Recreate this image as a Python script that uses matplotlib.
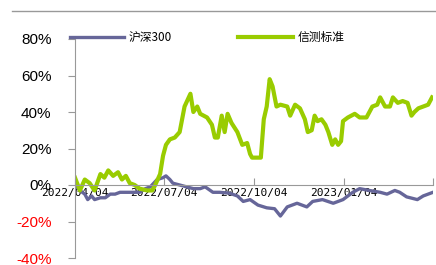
import matplotlib
matplotlib.use("Agg")
import matplotlib.pyplot as plt
from matplotlib.lines import Line2D
import pandas as pd

plt.rcParams['font.family'] = ['Noto Sans CJK SC', 'DejaVu Sans']

# 信测标准
green_dates = ["2022-04-04", "2022-04-09", "2022-04-14", "2022-04-19", "2022-04-24", "2022-04-30",
               "2022-05-04", "2022-05-08", "2022-05-13", "2022-05-18", "2022-05-22", "2022-05-26",
               "2022-05-30", "2022-06-04", "2022-06-09", "2022-06-17", "2022-06-22", "2022-06-25",
               "2022-06-30", "2022-07-03", "2022-07-06", "2022-07-10", "2022-07-15", "2022-07-20",
               "2022-07-25", "2022-07-31", "2022-08-03", "2022-08-07", "2022-08-10", "2022-08-17",
               "2022-08-22", "2022-08-25", "2022-08-28", "2022-09-01", "2022-09-04", "2022-09-07",
               "2022-09-11", "2022-09-17", "2022-09-22", "2022-09-27", "2022-09-30", "2022-10-02",
               "2022-10-11", "2022-10-14", "2022-10-17", "2022-10-20", "2022-10-23", "2022-10-27",
               "2022-10-31", "2022-11-07", "2022-11-10", "2022-11-15", "2022-11-20", "2022-11-25",
               "2022-11-28", "2022-12-02", "2022-12-05", "2022-12-08", "2022-12-12", "2022-12-16",
               "2022-12-19", "2022-12-23", "2022-12-26", "2022-12-29", "2023-01-01", "2023-01-03",
               "2023-01-08", "2023-01-15", "2023-01-20", "2023-01-27", "2023-02-02", "2023-02-07",
               "2023-02-10", "2023-02-15", "2023-02-20", "2023-02-23", "2023-02-28", "2023-03-05",
               "2023-03-10", "2023-03-14", "2023-03-17", "2023-03-21", "2023-03-26", "2023-03-31",
               "2023-04-04"]
green_vals = [4, -3, 3, 1, -3, 6,
              4, 8, 5, 7, 3, 5,
              1, 0, -2, -3, -3, 0,
              6, 16, 22, 25, 26, 29,
              43, 50, 40, 43, 39, 37,
              33, 26, 26, 38, 29, 39,
              34, 29, 22, 23, 17, 15,
              15, 36, 43, 58, 54, 43,
              44, 43, 38, 44, 42, 36,
              29, 30, 38, 35, 36, 33,
              29, 22, 25, 22, 24, 35,
              37, 39, 37, 37, 43, 44,
              48, 43, 43, 48, 45, 46,
              45, 38, 40, 42, 43, 44,
              48]

# 沪深300
hs_dates = ["2022-04-04", "2022-04-09", "2022-04-14", "2022-04-17", "2022-04-21", "2022-04-24",
            "2022-04-30", "2022-05-05", "2022-05-10", "2022-05-15", "2022-05-20", "2022-05-30",
            "2022-06-09", "2022-06-15", "2022-06-20", "2022-06-27", "2022-07-03", "2022-07-06",
            "2022-07-10", "2022-07-13", "2022-07-20", "2022-07-27", "2022-08-03", "2022-08-10",
            "2022-08-15", "2022-08-23", "2022-08-30", "2022-09-09", "2022-09-17", "2022-09-23",
            "2022-09-30", "2022-10-08", "2022-10-17", "2022-10-25", "2022-10-31", "2022-11-07",
            "2022-11-17", "2022-11-27", "2022-12-03", "2022-12-13", "2022-12-24", "2023-01-03",
            "2023-01-08", "2023-01-13", "2023-01-20", "2023-01-30", "2023-02-10", "2023-02-17",
            "2023-02-25", "2023-03-02", "2023-03-09", "2023-03-20", "2023-03-26", "2023-03-31",
            "2023-04-05"]
hs_vals = [0, -3, -5, -8, -6, -8,
           -7, -7, -5, -5, -4, -4,
           -4, -2, -1, 3, 4, 5,
           3, 1, 0, -1, -2, -2,
           -1, -4, -4, -4.5, -6, -9,
           -8, -11, -12.5, -13, -17, -12,
           -10, -12, -9, -8, -10, -8,
           -6, -4, -2, -3, -4, -5,
           -3, -4, -6.5, -8, -6, -5,
           -4]

xtick_dates = ["2022-04-04", "2022-07-04", "2022-10-04", "2023-01-04", "2023-04-05"]
xtick_labels = ["2022/04/04", "2022/07/04", "2022/10/04", "2023/01/04", ""]
yticks = [80, 60, 40, 20, 0, -20, -40]

fig = plt.figure(figsize=(4.36, 2.65), dpi=100)
ax = fig.add_axes([75 / 436, 1 - 258 / 265, (433 - 75) / 436, (258 - 39) / 265])

ax.plot(pd.to_datetime(hs_dates), hs_vals, color="#666699", lw=2.4, label="沪深300")
ax.plot(pd.to_datetime(green_dates), green_vals, color="#99CC00", lw=3.0, label="信测标准")

ax.set_ylim(-40, 80)
ax.set_xlim(pd.Timestamp("2022-04-04"), pd.Timestamp("2023-04-05"))

ax.spines['top'].set_visible(False)
ax.spines['right'].set_visible(False)
ax.spines['left'].set_color("#999999")
ax.spines['bottom'].set_color("#999999")
ax.spines['bottom'].set_position(('data', 0))

ax.set_yticks(yticks)
ax.set_yticklabels([f"{v}%" for v in yticks], family="Liberation Sans", fontsize=11)
for lab, v in zip(ax.get_yticklabels(), yticks):
    lab.set_color("red" if v < 0 else "black")
ax.tick_params(axis='y', length=5, color="#999999", pad=12)

ax.set_xticks(pd.to_datetime(xtick_dates))
ax.set_xticklabels(xtick_labels, family="DejaVu Sans Mono", fontsize=8)
ax.tick_params(axis='x', direction='in', length=5, color="#999999", pad=2)

ax.legend(loc="upper left", bbox_to_anchor=(70 / 436, 1 - 31 / 265), bbox_transform=fig.transFigure,
          ncol=2, frameon=False, fontsize=8.5, handlelength=4.6, columnspacing=5.6,
          handletextpad=0.4, borderpad=0, borderaxespad=0)

fig.add_artist(Line2D([12 / 436, 1], [1 - 11 / 265, 1 - 11 / 265], color="#999999", lw=1))

fig.savefig("out.png", dpi=100)
